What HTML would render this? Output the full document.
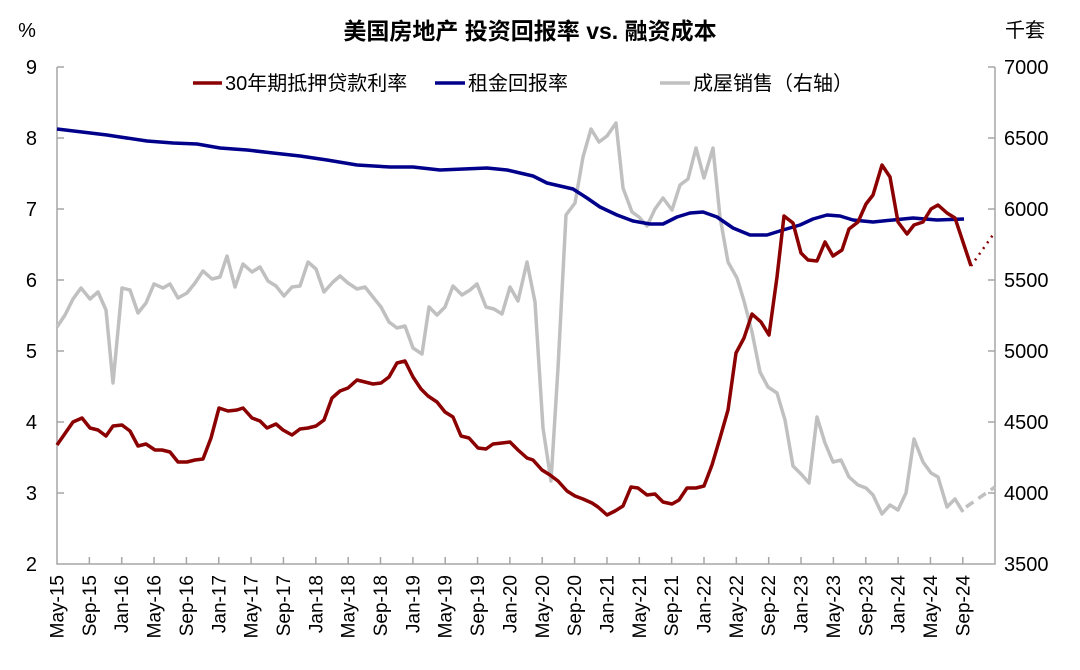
<!DOCTYPE html>
<html><head><meta charset="utf-8"><style>
body{margin:0;background:#fff}
svg{display:block}
text{font-family:"Liberation Sans","Noto Sans CJK SC",sans-serif;fill:#000}
</style></head><body>
<svg width="1080" height="670" viewBox="0 0 1080 670">
<text x="530" y="39" font-size="23" font-weight="bold" text-anchor="middle">美国房地产 投资回报率 vs. 融资成本</text>
<text x="27" y="37" font-size="20" text-anchor="middle">%</text>
<text x="1025" y="37" font-size="20" text-anchor="middle">千套</text>
<g stroke="#a6a6a6" stroke-width="1.5" fill="none">
<path d="M57,67V564H995V67"/>
<path d="M57,67h7M57,138h7M57,209h7M57,280h7M57,351h7M57,422h7M57,493h7"/>
<path d="M995,67h-7M995,138h-7M995,209h-7M995,280h-7M995,351h-7M995,422h-7M995,493h-7"/>
<path d="M89.35,564v-7M121.7,564v-7M154.05,564v-7M186.4,564v-7M218.75,564v-7M251.1,564v-7M283.45,564v-7M315.8,564v-7M348.15,564v-7M380.5,564v-7M412.85,564v-7M445.2,564v-7M477.55,564v-7M509.9,564v-7M542.25,564v-7M574.6,564v-7M606.95,564v-7M639.3,564v-7M671.65,564v-7M704,564v-7M736.35,564v-7M768.7,564v-7M801.05,564v-7M833.4,564v-7M865.75,564v-7M898.1,564v-7M930.45,564v-7M962.8,564v-7"/>
</g>
<g font-size="20" text-anchor="end">
<text x="37" y="74">9</text><text x="37" y="145">8</text><text x="37" y="216">7</text><text x="37" y="287">6</text><text x="37" y="358">5</text><text x="37" y="429">4</text><text x="37" y="500">3</text><text x="37" y="571">2</text>
</g>
<g font-size="20">
<text x="1004" y="74">7000</text><text x="1004" y="145">6500</text><text x="1004" y="216">6000</text><text x="1004" y="287">5500</text><text x="1004" y="358">5000</text><text x="1004" y="429">4500</text><text x="1004" y="500">4000</text><text x="1004" y="571">3500</text>
</g>
<g font-size="19" text-anchor="end">
<text transform="translate(63.5,575) rotate(-90)">May-15</text>
<text transform="translate(95.85,575) rotate(-90)">Sep-15</text>
<text transform="translate(128.2,575) rotate(-90)">Jan-16</text>
<text transform="translate(160.55,575) rotate(-90)">May-16</text>
<text transform="translate(192.9,575) rotate(-90)">Sep-16</text>
<text transform="translate(225.25,575) rotate(-90)">Jan-17</text>
<text transform="translate(257.6,575) rotate(-90)">May-17</text>
<text transform="translate(289.95,575) rotate(-90)">Sep-17</text>
<text transform="translate(322.3,575) rotate(-90)">Jan-18</text>
<text transform="translate(354.65,575) rotate(-90)">May-18</text>
<text transform="translate(387,575) rotate(-90)">Sep-18</text>
<text transform="translate(419.35,575) rotate(-90)">Jan-19</text>
<text transform="translate(451.7,575) rotate(-90)">May-19</text>
<text transform="translate(484.05,575) rotate(-90)">Sep-19</text>
<text transform="translate(516.4,575) rotate(-90)">Jan-20</text>
<text transform="translate(548.75,575) rotate(-90)">May-20</text>
<text transform="translate(581.1,575) rotate(-90)">Sep-20</text>
<text transform="translate(613.45,575) rotate(-90)">Jan-21</text>
<text transform="translate(645.8,575) rotate(-90)">May-21</text>
<text transform="translate(678.15,575) rotate(-90)">Sep-21</text>
<text transform="translate(710.5,575) rotate(-90)">Jan-22</text>
<text transform="translate(742.85,575) rotate(-90)">May-22</text>
<text transform="translate(775.2,575) rotate(-90)">Sep-22</text>
<text transform="translate(807.55,575) rotate(-90)">Jan-23</text>
<text transform="translate(839.9,575) rotate(-90)">May-23</text>
<text transform="translate(872.25,575) rotate(-90)">Sep-23</text>
<text transform="translate(904.6,575) rotate(-90)">Jan-24</text>
<text transform="translate(936.95,575) rotate(-90)">May-24</text>
<text transform="translate(969.3,575) rotate(-90)">Sep-24</text>
</g>
<g fill="none" stroke-linejoin="round" stroke-width="3.5">
<polyline stroke="#c0c0c0" points="57,327 65,315 73,299 81,288 90,299 98,292 106,310 113,383 122,288 130,290 138,313 146,303 154,284 163,288 170,284 178,298 187,293 195,283 203,271 212,279 220,277 227,256 235,287 243,264 252,272 260,267 268,281 276,286 284,296 292,287 300,286 308,262 316,269 324,292 333,282 340,276 348,283 357,289 365,287 373,297 381,307 389,322 397,328 405,326 413,348 422,354 429,307 437,315 445,307 453,286 462,295 470,290 477,284 486,307 494,309 502,314 510,287 518,301 527,262 535,302 543,428 551,481 558,368 566,215 575,203 583,157 591,129 599,142 607,136 616,123 623,188 632,212 639,217 647,226 655,209 663,198 672,210 680,185 688,179 696,148 704,178 713,148 720,217 728,262 737,278 744,301 752,332 760,372 768,387 777,393 785,420 793,466 802,475 809,483 817,417 825,443 833,462 841,460 849,477 858,485 866,488 873,495 882,514 890,505 898,510 906,493 914,439 923,462 931,473 938,477 947,507 955,499 963,512"/>
<polyline stroke="#c0c0c0" stroke-dasharray="9,6" points="966,507 995,487"/>
<polyline stroke="#00008b" points="57,129 107,135 120,137 147,141 173,143 197,144 220,148 247,150 273,153 300,156 327,160 357,165 390,167 413,167 440,170 487,168 507,170 520,173 533,176 547,183 560,186 573,189 587,198 600,207 617,215 633,221 650,224 663,224 677,217 690,213 703,212 717,217 733,228 750,235 767,235 783,230 800,225 813,219 827,215 840,216 853,220 873,222 893,220 913,218 937,220 964,219"/>
<polyline stroke="#8b0000" points="57,445 73,422 82,418 90,428 98,430 106,436 113,426 122,425 130,431 138,446 146,444 155,450 162,450 170,452 178,462 187,462 195,460 203,459 211,438 219,408 228,411 237,410 243,408 252,418 260,421 267,428 276,424 283,430 292,435 300,429 308,428 316,426 324,420 332,398 340,391 348,388 357,380 365,382 373,384 381,383 389,377 397,363 405,361 413,377 421,389 428,396 437,402 445,412 453,417 461,436 469,438 478,448 486,449 493,444 502,443 510,442 518,450 527,458 533,460 542,470 550,475 558,481 567,491 575,496 583,499 592,503 598,507 607,515 615,511 623,506 631,487 638,488 647,495 655,494 663,502 672,504 679,500 687,488 696,488 704,486 712,465 720,438 728,410 736,353 744,338 752,314 761,322 769,335 777,277 784,216 793,223 801,253 808,260 817,261 825,242 833,256 842,250 849,229 858,222 866,204 873,195 882,165 890,177 898,222 907,234 914,225 923,222 931,209 938,205 947,213 955,218 971,266"/>
<polyline stroke="#8b0000" stroke-width="2.5" stroke-dasharray="2,5" points="971,266 995,232"/>
</g>
<g stroke-width="3.5">
<line x1="193" y1="83" x2="222" y2="83" stroke="#8b0000"/>
<line x1="435" y1="83" x2="465" y2="83" stroke="#00008b"/>
<line x1="660" y1="83" x2="690" y2="83" stroke="#c0c0c0"/>
</g>
<g font-size="20">
<text x="225" y="90">30年期抵押贷款利率</text>
<text x="468" y="90">租金回报率</text>
<text x="693" y="90">成屋销售（右轴）</text>
</g>
</svg>
</body></html>
